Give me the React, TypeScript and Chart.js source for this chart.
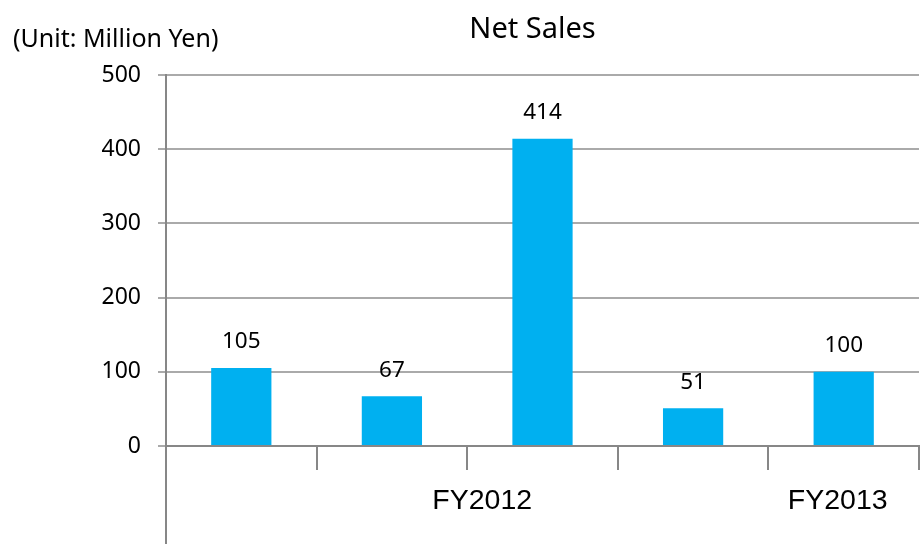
import React, { useEffect, useRef } from "react";
import { Chart, registerables } from "chart.js";

Chart.register(...registerables);

const categories = ["Q1", "Q2", "Q3", "Q4", "Q5"];
const netSales = [105, 67, 414, 51, 100];
const groupLabels = ["FY2012", "FY2013"];
const yTicks = [0, 100, 200, 300, 400, 500];
const chartTitle = "Net Sales";
const unitLabel = "(Unit: Million Yen)";

const W = 921;
const H = 544;

const overlay = {
  id: "overlay",
  afterDraw(chart: any) {
    const ctx = chart.ctx;
    const area = chart.chartArea;
    const xs = chart.scales.x;
    ctx.save();
    // extend left axis line downwards
    ctx.strokeStyle = "#878787";
    ctx.lineWidth = 2;
    ctx.beginPath();
    ctx.moveTo(area.left, area.bottom);
    ctx.lineTo(area.left, H);
    ctx.stroke();

    // title
    ctx.fillStyle = "#000";
    ctx.font = "29px 'Noto Sans'";
    ctx.textAlign = "center";
    ctx.textBaseline = "middle";
    ctx.fillText(chartTitle, (area.left + area.right) / 2 - 10, 30);

    // unit
    ctx.font = "25px 'Noto Sans'";
    ctx.textAlign = "left";
    ctx.fillText(unitLabel, 13, 40);

    // data labels
    const meta = chart.getDatasetMeta(0);
    ctx.font = "22.5px 'Noto Sans'";
    ctx.textAlign = "center";
    meta.data.forEach((bar: any, i: number) => {
      ctx.fillText(String(netSales[i]), bar.x, bar.y - 26);
    });

    // group labels
    ctx.font = "28.5px 'Liberation Sans'";
    const groupPos = [1.6, 3.96];
    groupLabels.forEach((g, i) => {
      ctx.fillText(g, xs.getPixelForValue(groupPos[i]), 501);
    });
    ctx.restore();
  },
};

export default function App() {
  const ref = useRef<HTMLCanvasElement>(null);
  useEffect(() => {
    document.body.style.margin = "0";
    const chart = new Chart(ref.current!, {
      type: "bar",
      data: {
        labels: categories,
        datasets: [
          {
            data: netSales,
            backgroundColor: "#00B0F0",
            barPercentage: 0.4,
            categoryPercentage: 1,
          },
        ],
      },
      options: {
        animation: false,
        responsive: false,
        layout: { padding: { top: 75, right: 2, left: 0, bottom: 0 } },
        plugins: { legend: { display: false }, tooltip: { enabled: false } },
        scales: {
          x: {
            offset: true,
            grid: {
              offset: true,
              drawOnChartArea: false,
              drawTicks: true,
              tickLength: 24,
              color: "#878787",
              lineWidth: 2,
            },
            border: { color: "#878787", width: 2 },
            ticks: { display: false },
            afterFit: (s: any) => {
              s.height = 98;
            },
          },
          y: {
            min: 0,
            max: 500,
            afterBuildTicks: (s: any) => {
              s.ticks = yTicks.map((v) => ({ value: v }));
            },
            grid: {
              color: "#aaaaaa",
              lineWidth: 2,
              tickLength: 8,
            },
            border: { color: "#878787", width: 2 },
            ticks: {
              padding: 17,
              color: "#000",
              font: { family: "'Noto Sans'", size: 23 },
            },
            afterFit: (s: any) => {
              s.width = 166;
            },
          },
        },
      },
      plugins: [overlay],
    });
    return () => chart.destroy();
  }, []);
  return (
    <div style={{ width: W, height: H }}>
      <canvas ref={ref} width={W} height={H} style={{ display: "block" }} />
    </div>
  );
}
